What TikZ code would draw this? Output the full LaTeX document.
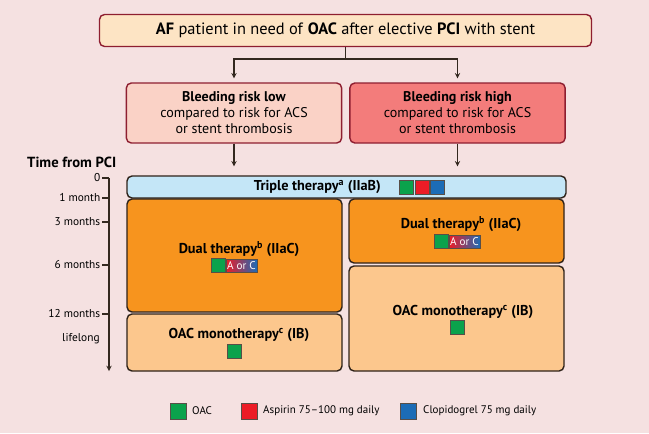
\documentclass[tikz,border=0pt]{standalone}
\usepackage{fontspec}
\setmainfont{PT Sans}
\definecolor{paper}{HTML}{F5E1E1}
\definecolor{ink}{HTML}{33281F}
\definecolor{frame}{HTML}{8E1E30}
\definecolor{edge}{HTML}{2E2219}
\definecolor{peach}{HTML}{FDE4C4}
\definecolor{risklow}{HTML}{FAD2C6}
\definecolor{riskhigh}{HTML}{F37C7B}
\definecolor{triplefill}{HTML}{C4E6F7}
\definecolor{dualfill}{HTML}{F7941E}
\definecolor{monofill}{HTML}{FCC78D}
\definecolor{oacgreen}{HTML}{0BA24C}
\definecolor{aspred}{HTML}{EC1C26}
\definecolor{clopblue}{HTML}{1C6CB6}
\begin{document}
\begin{tikzpicture}[x=0.3mm, y=-0.3mm, font=\color{ink}]

        \tikzstyle{header} = [rectangle, rounded corners=1.5mm, minimum width=147.6mm, minimum height=9.6mm, text centered, draw=frame, line width=1.2pt, fill=peach, font=\fontsize{14}{16}\selectfont]
        \tikzstyle{risk} = [rectangle, rounded corners=1.5mm, minimum width=64.6mm, minimum height=18mm, align=center, draw=frame, line width=1.2pt, font=\fontsize{12}{13.6}\selectfont]
        \tikzstyle{therapy} = [rectangle, rounded corners=1.5mm, minimum width=64.5mm, draw=edge, line width=1.2pt]
        \tikzstyle{title} = [font=\bfseries\fontsize{12.2}{14}\selectfont]
        \tikzstyle{drug} = [rectangle, draw=edge!80, line width=0.4pt, minimum width=4.3mm, minimum height=4.1mm, inner sep=0pt]
        \tikzstyle{either} = [rectangle, draw=edge!80, line width=0.4pt, minimum width=9.3mm, minimum height=3.9mm, inner sep=0pt, left color=aspred, right color=clopblue, text=white, font=\fontsize{9.5}{10}\selectfont]
        \tikzstyle{month} = [anchor=east, inner sep=1pt, font=\fontsize{9.7}{11}\selectfont]
        \tikzstyle{legend} = [anchor=west, inner sep=0pt, font=\fontsize{9.4}{11}\selectfont]
        \tikzstyle{arrow} = [line width=1pt, draw=ink, ->, >=stealth]
        \tikzstyle{tick} = [line width=1pt, draw=ink]

        \fill[paper] (0,0) rectangle (649,433);
        \useasboundingbox (0,0) rectangle (649,433);

        \node (patient) [header] at (345.5,30.5) {\textbf{AF} patient in need of \textbf{OAC} after elective \textbf{PCI} with stent};
        \node (lowrisk) [risk, fill=risklow] at (234,113) {\textbf{Bleeding risk low}\\compared to risk for ACS\\or stent thrombosis};
        \node (highrisk) [risk, fill=riskhigh] at (457.5,113) {\textbf{Bleeding risk high}\\compared to risk for ACS\\or stent thrombosis};

        % Time axis
        \node (timehead) [anchor=west, inner sep=0pt, font=\bfseries\fontsize{12.5}{14}\selectfont] at (27,162) {Time from PCI};
        \coordinate (t0) at (109,178);
        \coordinate (t1) at (109,198);
        \coordinate (t3) at (109,222);
        \coordinate (t6) at (109,265);
        \coordinate (t12) at (109,314);
        \coordinate (tend) at (109,371);
        \draw [arrow] (t0) -- (tend);
        \draw [tick] (t0) -- ++(-7,0) node [month, left] {0};
        \draw [tick] (t1) -- ++(-7,0) node [month, left] {1 month};
        \draw [tick] (t3) -- ++(-7,0) node [month, left] {3 months};
        \draw [tick] (t6) -- ++(-7,0) node [month, left] {6 months};
        \draw [tick] (t12) -- ++(-7,0) node [month, left] {12 months};
        \node (lifelong) [month] at (101,339) {lifelong};

        % Therapy boxes
        \node (triple) [therapy, fill=triplefill, minimum width=131.7mm, minimum height=6.6mm] at (346.5,187) {};
        \node (tripletitle) [title, anchor=east] at (385,187) {Triple therapy\textsuperscript{a} (IIaB)};
        \node (tripleoac) [drug, fill=oacgreen] at (406.5,187) {};
        \node (tripleasp) [drug, fill=aspred] at (422,187) {};
        \node (tripleclop) [drug, fill=clopblue] at (437.5,187) {};

        \node (dualL) [therapy, fill=dualfill, minimum height=33.9mm] at (234.5,255.5) {};
        \node (dualLtitle) [title] at (239,249) {Dual therapy\textsuperscript{b} (IIaC)};
        \node (dualLoac) [drug, fill=oacgreen] at (218,265.5) {};
        \node (dualLac) [either] at (241.5,265.5) {A or C};

        \node (monoL) [therapy, fill=monofill, minimum height=17.1mm] at (234.5,342.5) {};
        \node (monoLtitle) [title] at (239,335) {OAC monotherapy\textsuperscript{c} (IB)};
        \node (monoLoac) [drug, fill=oacgreen] at (234.5,351) {};

        \node (dualR) [therapy, fill=dualfill, minimum height=19.2mm] at (456.5,231) {};
        \node (dualRtitle) [title] at (461,224) {Dual therapy\textsuperscript{b} (IIaC)};
        \node (dualRoac) [drug, fill=oacgreen] at (441.5,241.5) {};
        \node (dualRac) [either] at (464.5,241.5) {A or C};

        \node (monoR) [therapy, fill=monofill, minimum height=31.5mm] at (456.5,318.5) {};
        \node (monoRtitle) [title] at (463,312) {OAC monotherapy\textsuperscript{c} (IB)};
        \node (monoRoac) [drug, fill=oacgreen] at (457,327.5) {};

        % Legend
        \node (keyoac) [drug, fill=oacgreen, minimum width=4.8mm, minimum height=4.8mm] at (178,411) {};
        \node (keyasp) [drug, fill=aspred, minimum width=4.8mm, minimum height=4.8mm] at (249,411) {};
        \node (keyclop) [drug, fill=clopblue, minimum width=4.8mm, minimum height=4.8mm] at (408.5,411) {};
        \node [legend] at (192,411) {OAC};
        \node [legend] at (263,411) {Aspirin 75–100 mg daily};
        \node [legend] at (423,411) {Clopidogrel 75 mg daily};

        % Arrows
        \coordinate (split) at (345.5,59);
        \draw [tick] (patient.south) -- (split);
        \draw [arrow, shorten >=1.2mm] (split) -| (lowrisk.north);
        \draw [arrow, shorten >=1.2mm] (split) -| (highrisk.north);
        \draw [arrow, shorten >=2.7mm] (lowrisk.south) -- (lowrisk.south |- triple.north);
        \draw [arrow, shorten >=2.7mm] (highrisk.south) -- (highrisk.south |- triple.north);

    \end{tikzpicture}
\end{document}
